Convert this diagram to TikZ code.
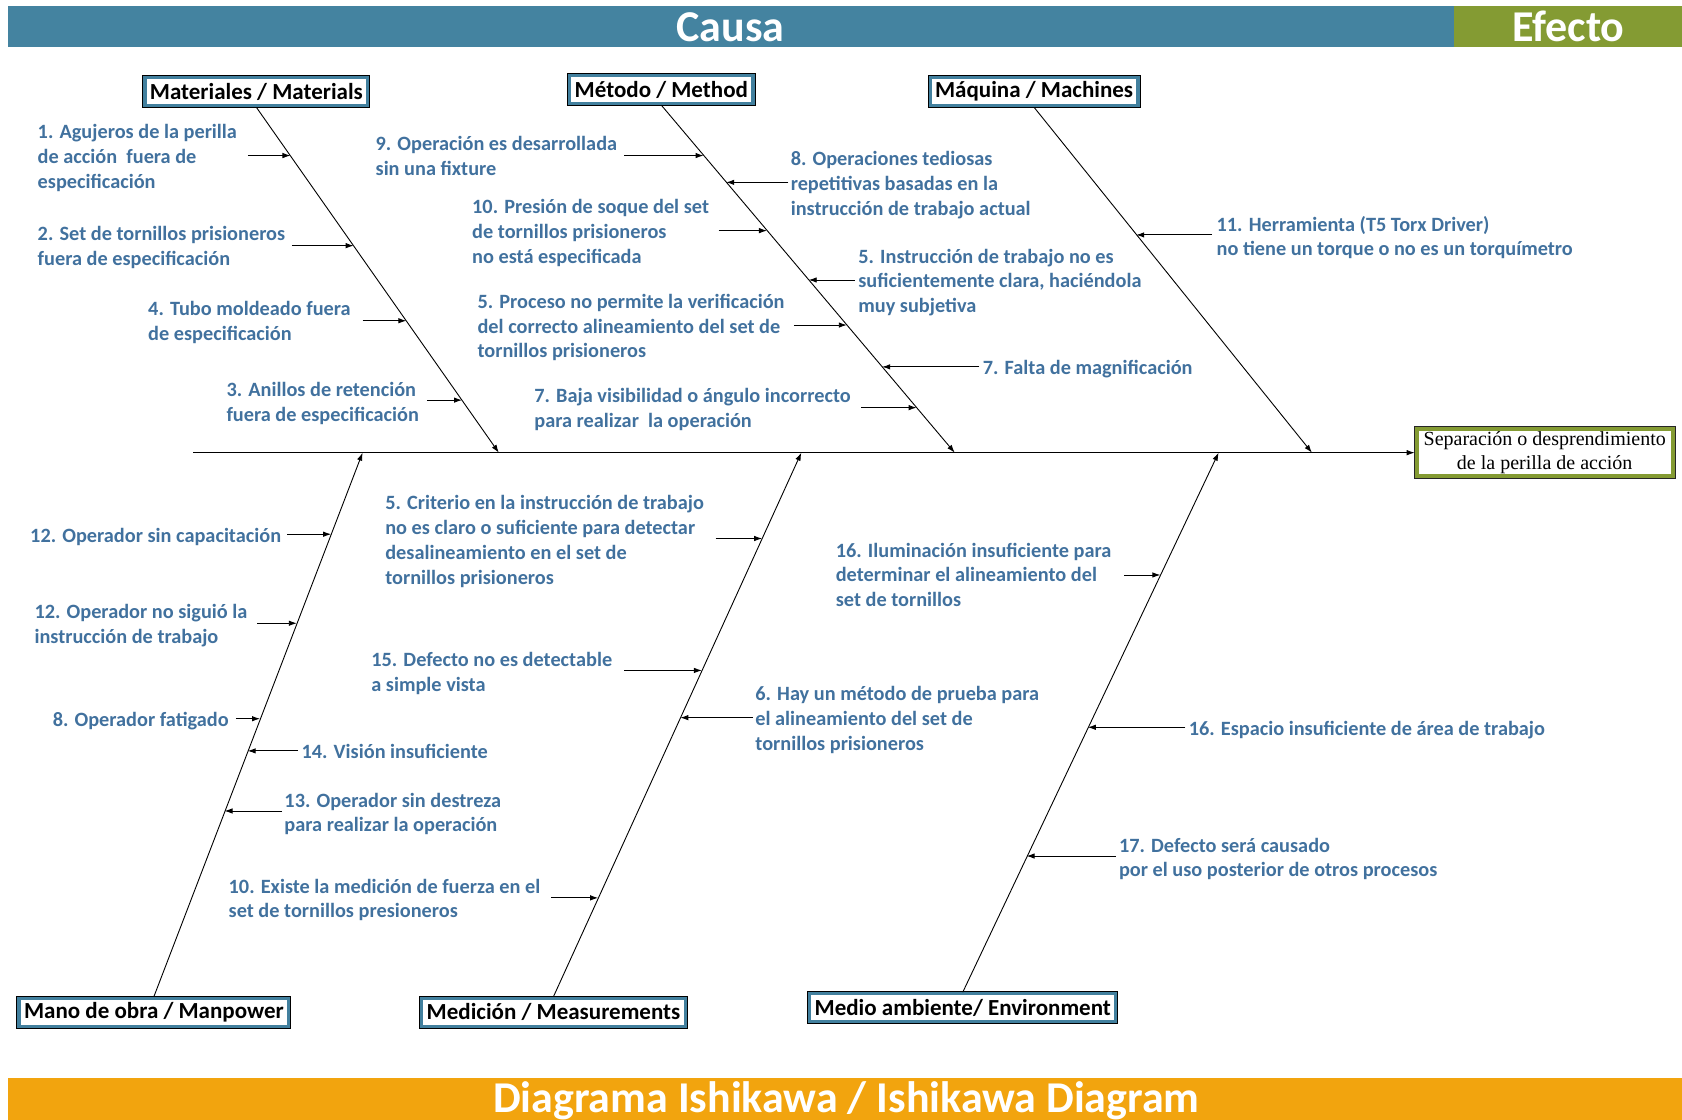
\documentclass[tikz,border=0pt]{standalone}
\usepackage{fontspec}
\setmainfont{Carlito}
\newfontfamily\serifface{Liberation Serif}
\usetikzlibrary{arrows.meta}

\definecolor{headblue}{RGB}{68,131,160}
\definecolor{effgreen}{RGB}{132,155,51}
\definecolor{footorange}{RGB}{242,164,14}
\definecolor{txtblue}{RGB}{65,113,158}
\definecolor{boxblue}{RGB}{66,128,158}

% multi-line labels are placed by the baseline of their last line
\tikzset{
  lbl/.style={font=\fontsize{20.3}{24.7}\selectfont\bfseries, text=txtblue,
    align=left, anchor=base west, inner sep=0pt},
  catbox/.style={font=\fontsize{23}{27}\selectfont\bfseries, text=black,
    fill=white, draw=boxblue, line width=3.2pt,
    preaction={draw=black, line width=5.2pt},
    inner xsep=5pt, inner ysep=0pt, minimum height=28pt},
  effbox/.style={font=\serifface\fontsize{20}{23.6}\selectfont, align=center,
    fill=white, draw=effgreen, line width=4pt,
    preaction={draw=black!85, line width=6pt},
    inner sep=1pt, minimum width=256pt, minimum height=47.6pt},
  headtxt/.style={font=\fontsize{44}{50}\selectfont\bfseries, text=white,
    anchor=base, inner sep=0pt},
  arr/.style={-{Latex[length=8pt,width=5.5pt]}, line width=0.9pt, draw=black},
}

\begin{document}
\begin{tikzpicture}[x=1.0727pt,y=-1.0727pt]
\useasboundingbox (0,0) rectangle (1568,1044);

% title bands
\fill[headblue] (7,6) rectangle (1355,44);
\fill[effgreen] (1355,6) rectangle (1568,44);
\node[headtxt] (causa) at (681,39) {Causa};
\node[headtxt] (efecto) at (1462,39) {Efecto};
\fill[footorange] (7,1005) rectangle (1568,1044);
\node[headtxt] (titulo) at (789,1037) {Diagrama Ishikawa / Ishikawa Diagram};

% effect and spine
\node[effbox] (eff) at (1440,422) {Separación o desprendimiento\\de la perilla de acción};
\coordinate (spL) at (180,422);
\draw[arr] (spL) -- (eff.west);

% category boxes
\node[catbox] (mat)  at (239,85.5)   {Materiales / Materials};
\node[catbox] (meth) at (616.5,83.5) {Método / Method};
\node[catbox] (mach) at (964,85.5)   {Máquina / Machines};
\node[catbox] (man)  at (143.5,943.5){Mano de obra / Manpower};
\node[catbox] (meas) at (516,943.5)  {Medición / Measurements};
\node[catbox] (env)  at (897.5,939.5){Medio ambiente/ Environment};

% bones meeting the spine
\coordinate (jmat)  at (465,422);
\coordinate (jmeth) at (890,422);
\coordinate (jmach) at (1223,422);
\coordinate (jman)  at (338,422);
\coordinate (jmeas) at (747,422);
\coordinate (jenv)  at (1136,422);
\draw[arr] (mat.south)  -- (jmat);
\draw[arr] (meth.south) -- (jmeth);
\draw[arr] (mach.south) -- (jmach);
\draw[arr] (man.north)  -- (jman);
\draw[arr] (meas.north) -- (jmeas);
\draw[arr] (env.north)  -- (jenv);

% ---- Materiales / Materials
\node[lbl] (c1) at (35,175.5) {1. Agujeros de la perilla\\de acción\ \ fuera de\\especificación};
\coordinate (c1t) at (231,145); \coordinate (c1h) at (270.8,145);
\draw[arr] (c1t) -- (c1h);
\node[lbl] (c2) at (35,247.5) {2. Set de tornillos prisioneros\\fuera de especificación};
\coordinate (c2t) at (272,229); \coordinate (c2h) at (329.7,229);
\draw[arr] (c2t) -- (c2h);
\node[lbl] (c3) at (138,317.5) {4. Tubo moldeado fuera\\de especificación};
\coordinate (c3t) at (338,299); \coordinate (c3h) at (378.8,299);
\draw[arr] (c3t) -- (c3h);
\node[lbl] (c4) at (211,392.5) {3. Anillos de retención\\fuera de especificación};
\coordinate (c4t) at (398,373); \coordinate (c4h) at (430.7,373);
\draw[arr] (c4t) -- (c4h);

% ---- Método / Method
\node[lbl] (c5) at (350,163.5) {9. Operación es desarrollada\\sin una fixture};
\coordinate (c5t) at (582,145); \coordinate (c5h) at (655.9,145);
\draw[arr] (c5t) -- (c5h);
\node[lbl] (c6) at (737,200.5) {8. Operaciones tediosas\\repetitivas basadas en la\\instrucción de trabajo actual};
\coordinate (c6t) at (735,170); \coordinate (c6h) at (677,170);
\draw[arr] (c6t) -- (c6h);
\node[lbl] (c7) at (440,245.5) {10. Presión de soque del set\\de tornillos prisioneros\\no está especificada};
\coordinate (c7t) at (670,215); \coordinate (c7h) at (715,215);
\draw[arr] (c7t) -- (c7h);
\node[lbl] (c8) at (800,291.5) {5. Instrucción de trabajo no es\\suficientemente clara, haciéndola\\muy subjetiva};
\coordinate (c8t) at (797,261); \coordinate (c8h) at (753.9,261);
\draw[arr] (c8t) -- (c8h);
\node[lbl] (c9) at (445,333.5) {5. Proceso no permite la verificación\\del correcto alineamiento del set de\\tornillos prisioneros};
\coordinate (c9t) at (740,303); \coordinate (c9h) at (789.4,303);
\draw[arr] (c9t) -- (c9h);
\node[lbl] (c10) at (916,349.5) {7. Falta de magnificación};
\coordinate (c10t) at (913,342); \coordinate (c10h) at (822.4,342);
\draw[arr] (c10t) -- (c10h);
\node[lbl] (c11) at (498,398.5) {7. Baja visibilidad o ángulo incorrecto\\para realizar\ \ la operación};
\coordinate (c11t) at (803,380); \coordinate (c11h) at (854.5,380);
\draw[arr] (c11t) -- (c11h);

% ---- Máquina / Machines
\node[lbl] (c12) at (1134,238.5) {11. Herramienta (T5 Torx Driver)\\no tiene un torque o no es un torquímetro};
\coordinate (c12t) at (1130,219); \coordinate (c12h) at (1059.2,219);
\draw[arr] (c12t) -- (c12h);

% ---- Mano de obra / Manpower
\node[lbl] (c13) at (28,505.5) {12. Operador sin capacitación};
\coordinate (c13t) at (268,498); \coordinate (c13h) at (308.7,498);
\draw[arr] (c13t) -- (c13h);
\node[lbl] (c14) at (32,599.5) {12. Operador no siguió la\\instrucción de trabajo};
\coordinate (c14t) at (240,581); \coordinate (c14h) at (276.7,581);
\draw[arr] (c14t) -- (c14h);
\node[lbl] (c15) at (49,677.5) {8. Operador fatigado};
\coordinate (c15t) at (220,670); \coordinate (c15h) at (242.4,670);
\draw[arr] (c15t) -- (c15h);
\node[lbl] (c16) at (281,707.5) {14. Visión insuficiente};
\coordinate (c16t) at (278,700); \coordinate (c16h) at (230.9,700);
\draw[arr] (c16t) -- (c16h);
\node[lbl] (c17) at (265,775.5) {13. Operador sin destreza\\para realizar la operación};
\coordinate (c17t) at (263,756); \coordinate (c17h) at (209.3,756);
\draw[arr] (c17t) -- (c17h);

% ---- Medición / Measurements
\node[lbl] (c18) at (359,544.5) {5. Criterio en la instrucción de trabajo\\no es claro o suficiente para detectar\\desalineamiento en el set de\\tornillos prisioneros};
\coordinate (c18t) at (667,502); \coordinate (c18h) at (710.5,502);
\draw[arr] (c18t) -- (c18h);
\node[lbl] (c19) at (346,644.5) {15. Defecto no es detectable\\a simple vista};
\coordinate (c19t) at (582,625); \coordinate (c19h) at (654.3,625);
\draw[arr] (c19t) -- (c19h);
\node[lbl] (c20) at (704,699.5) {6. Hay un método de prueba para\\el alineamiento del set de\\tornillos prisioneros};
\coordinate (c20t) at (702,669); \coordinate (c20h) at (634.2,669);
\draw[arr] (c20t) -- (c20h);
\node[lbl] (c21) at (213,855.5) {10. Existe la medición de fuerza en el\\set de tornillos presioneros};
\coordinate (c21t) at (514,837); \coordinate (c21h) at (557.6,837);
\draw[arr] (c21t) -- (c21h);

% ---- Medio ambiente / Environment
\node[lbl] (c22) at (779,565.5) {16. Iluminación insuficiente para\\determinar el alineamiento del\\set de tornillos};
\coordinate (c22t) at (1048,536); \coordinate (c22h) at (1081.7,536);
\draw[arr] (c22t) -- (c22h);
\node[lbl] (c23) at (1108,685.5) {16. Espacio insuficiente de área de trabajo};
\coordinate (c23t) at (1105,678); \coordinate (c23h) at (1014.1,678);
\draw[arr] (c23t) -- (c23h);
\node[lbl] (c24) at (1043,817.5) {17. Defecto será causado\\por el uso posterior de otros procesos};
\coordinate (c24t) at (1040,798); \coordinate (c24h) at (957,798);
\draw[arr] (c24t) -- (c24h);
\end{tikzpicture}
\end{document}
